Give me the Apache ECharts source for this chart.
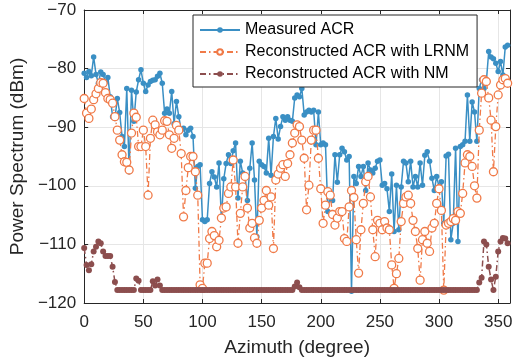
<!DOCTYPE html>
<html>
<head>
<meta charset="utf-8">
<script src="https://cdn.jsdelivr.net/npm/echarts@6/dist/echarts.min.js"></script>
<style>
html,body{margin:0;padding:0;background:#fff;}
#chart{width:517px;height:362px;}
</style>
</head>
<body>
<div id="chart"></div>
<script>
const azimuth = [0,2,4,6,8,10,12,14,16,18,20,22,24,26,28,30,32,34,36,38,40,42,44,46,48,50,52,54,56,58,60,62,64,66,68,70,72,74,76,78,80,82,84,86,88,90,92,94,96,98,100,102,104,106,108,110,112,114,116,118,120,122,124,126,128,130,132,134,136,138,140,142,144,146,148,150,152,154,156,158,160,162,164,166,168,170,172,174,176,178,180,182,184,186,188,190,192,194,196,198,200,202,204,206,208,210,212,214,216,218,220,222,224,226,228,230,232,234,236,238,240,242,244,246,248,250,252,254,256,258,260,262,264,266,268,270,272,274,276,278,280,282,284,286,288,290,292,294,296,298,300,302,304,306,308,310,312,314,316,318,320,322,324,326,328,330,332,334,336,338,340,342,344,346,348,350,352,354,356,358];

const measuredACR = [
-80.8,-81.5,-80.5,-81.2,-78.0,-81.0,-82.5,-80.6,-81.0,-82.3,-81.5,-84.8,-88.2,-88.5,-85.1,-87.5,-91.6,-93.3,-83.4,-97.6,-83.7,-89.0,-84.0,-81.9,-80.2,-82.5,-83.9,-82.8,-82.2,
-82.0,-81.9,-81.3,-80.8,-82.5,-87.6,-86.9,-87.6,-83.9,-89.4,-85.6,-88.2,-90.5,-90.2,-91.3,-90.5,-90.2,-91.6,-100.4,-96.7,-96.4,-105.8,-106.1,-105.8,-99.6,-97.6,-98.5,-100.2,-96.1,-105.8,-98.8,
-96.2,-94.7,-96.2,-94.0,-92.7,-102.1,-95.8,-97.8,-98.3,-102.5,-97.0,-92.7,-99.0,-108.7,-95.8,-96.4,-96.7,-97.8,-91.9,-98.2,-91.6,-88.5,-92.0,-89.9,-88.2,-88.8,-88.2,-88.8,-89.0,-85.0,-84.5,
-84.8,-83.4,-87.9,-87.4,-87.1,-87.4,-87.1,-93.0,-87.4,-93.0,-92.7,-93.0,-104.4,-101.3,-102.5,-94.7,-99.4,-94.7,-93.6,-94.2,-95.6,-95.0,-118.0,-98.4,-99.6,-96.7,-98.4,-96.7,-100.8,-96.1,
-97.3,-97.8,-97.0,-95.8,-95.6,-99.9,-99.6,-100.5,-104.4,-98.0,-107.8,-99.9,-107.5,-100.2,-95.8,-96.1,-99.3,-95.8,-100.2,-98.4,-100.2,-96.1,-99.9,-94.8,-94.2,-95.8,-98.7,-100.8,-98.4,-100.2,
-99.3,-106.4,-94.9,-94.6,-109.2,-106.4,-93.6,-109.5,-93.3,-93.0,-92.4,-84.5,-92.4,-85.7,-87.4,-92.4,-83.4,-81.9,-83.4,-82.2,-77.1,-78.0,-78.3,-79.1,-80.5,-78.8,-81.1,-76.3,-76.0
];

const reconLRNM = [
-85.1,-87.6,-88.5,-86.9,-85.3,-84.3,-83.4,-82.4,-82.5,-84.1,-85.1,-85.3,-85.9,-88.2,-90.5,-92.2,-94.7,-95.9,-96.0,-97.3,-91.0,-87.6,-88.3,-93.3,-93.3,-90.5,-93.3,-101.6,-91.9,
-88.8,-89.6,-90.8,-91.3,-90.5,-88.9,-89.0,-91.3,-93.6,-91.9,-89.7,-90.5,-94.5,-105.3,-100.8,-96.9,-95.0,-95.0,-97.6,-101.6,-116.9,-117.5,-113.2,-113.2,-109.0,-107.8,-108.5,-110.4,-109.3,-105.5,-103.8,
-103.6,-101.3,-100.2,-95.6,-100.2,-109.8,-104.7,-100.2,-98.4,-103.8,-107.2,-106.4,-108.9,-109.8,-105.9,-103.8,-102.5,-100.8,-103.3,-101.9,-110.7,-99.0,-98.0,-97.0,-96.4,-98.4,-96.2,-94.7,-92.7,-91.0,-89.6,
-89.9,-92.2,-95.3,-104.1,-99.9,-92.2,-90.5,-90.5,-95.3,-100.5,-106.4,-103.3,-101.0,-101.6,-104.9,-106.7,-105.5,-104.4,-104.4,-109.0,-109.5,-103.6,-100.8,-102.0,-109.2,-114.9,-107.5,-103.0,-99.3,-98.4,
-101.9,-107.5,-112.1,-105.9,-106.4,-107.5,-106.1,-107.2,-107.5,-113.5,-117.5,-115.0,-112.4,-106.1,-103.0,-101.9,-101.6,-103.0,-105.9,-107.8,-110.7,-116.1,-109.2,-107.8,-109.8,-111.2,-107.2,-106.4,-103.0,-100.5,
-104.2,-117.8,-106.7,-106.4,-106.1,-105.6,-105.9,-104.4,-104.7,-101.3,-96.1,-94.7,-95.0,-96.7,-100.0,-102.1,-90.5,-84.2,-81.9,-82.2,-85.0,-88.8,-97.6,-89.9,-84.5,-82.8,-81.9,-81.7,-82.5
];

const reconNM = [
-110.6,-113.5,-114.4,-113.4,-111.2,-110.4,-109.5,-109.8,-111.2,-112.0,-112.0,-112.0,-113.8,-116.4,-117.8,
-117.8,-117.8,-117.8,-117.8,-117.8,-117.8,-117.8,
-115.8,-116.2,
-117.8,-117.8,-117.8,-117.8,-117.8,
-116.3,-117.0,-116.0,-117.0,
-117.8,-117.8,-117.8,-117.8,-117.8,-117.8,-117.8,-117.8,-117.8,-117.8,-117.8,-117.8,-117.8,-117.8,-117.8,-117.8,-117.8,-117.8,-117.8,-117.8,-117.8,-117.8,-117.8,-117.8,-117.8,-117.8,-117.8,-117.8,-117.8,-117.8,-117.8,-117.8,-117.8,-117.8,-117.8,-117.8,-117.8,-117.8,-117.8,-117.8,-117.8,-117.8,-117.8,-117.8,-117.8,-117.8,-117.8,-117.8,-117.8,-117.8,-117.8,-117.8,-117.8,-117.8,-117.8,-117.8,
-117.2,-116.5,-117.3,
-117.8,-117.8,-117.8,-117.8,-117.8,-117.8,-117.8,-117.8,-117.8,-117.8,-117.8,-117.8,-117.8,-117.8,-117.8,-117.8,-117.8,-117.8,-117.8,-117.8,-117.8,-117.8,-117.8,-117.8,-117.8,-117.8,-117.8,-117.8,-117.8,-117.8,-117.8,-117.8,-117.8,-117.8,-117.8,-117.8,-117.8,-117.8,-117.8,-117.8,-117.8,-117.8,-117.8,-117.8,-117.8,-117.8,-117.8,-117.8,-117.8,-117.8,-117.8,-117.8,-117.8,-117.8,-117.8,-117.8,-117.8,-117.8,-117.8,-117.8,-117.8,-117.8,-117.8,-117.8,-117.8,-117.8,-117.8,-117.8,-117.8,-117.8,-117.8,-117.8,-117.8,-117.8,-117.8,
-116.5,-115.7,-109.5,-110.0,-113.8,-116.0,-117.8,-115.5,-111.2,-109.5,-108.9,-109.0,-109.8
];

const seriesNames = ['Measured ACR', 'Reconstructed ACR with LRNM', 'Reconstructed ACR with NM'];
const xTicks = [0, 50, 100, 150, 200, 250, 300, 350];
const yTicks = [-120, -110, -100, -90, -80, -70];

function pairs(vals) { return azimuth.map((a, i) => [a, vals[i]]); }

const FONT = '"Liberation Sans", Arial, Helvetica, sans-serif';
const chart = echarts.init(document.getElementById('chart'), null, {renderer: 'canvas'});
const dashDot = [6, 3, 1.5, 3];

chart.setOption({
  animation: false,
  backgroundColor: '#ffffff',
  textStyle: {fontFamily: FONT},
  grid: {left: 82, right: 7, top: 10, bottom: 59, containLabel: false, show: false},
  legend: {
    orient: 'vertical',
    left: 193, top: 15,
    itemWidth: 40, itemHeight: 7, itemGap: 4,
    padding: [6, 8, 4, 6],
    backgroundColor: '#ffffff',
    borderColor: '#262626', borderWidth: 1, borderRadius: 0,
    textStyle: {fontFamily: FONT, fontSize: 16, color: '#000', lineHeight: 18},
    data: seriesNames
  },
  xAxis: [{
    type: 'value', min: 0, max: 360, interval: 50,
    name: 'Azimuth (degree)', nameLocation: 'middle', nameGap: 35,
    nameTextStyle: {fontFamily: FONT, fontSize: 19, color: '#262626'},
    axisLine: {show: true, onZero: false, lineStyle: {color: '#262626', width: 1}},
    axisTick: {show: true, inside: true, length: 4, lineStyle: {color: '#262626'}},
    axisLabel: {fontFamily: FONT, fontSize: 17, color: '#262626', margin: 11, showMaxLabel: false,
      formatter: v => xTicks.indexOf(v) >= 0 ? String(v) : ''},
    splitLine: {show: true, lineStyle: {color: '#e6e6e6', width: 1}}
  }, {
    type: 'value', min: 0, max: 360, interval: 50, position: 'top',
    axisLine: {show: true, onZero: false, lineStyle: {color: '#262626', width: 1}},
    axisTick: {show: true, inside: true, length: 4, lineStyle: {color: '#262626'}},
    axisLabel: {show: false}, splitLine: {show: false}
  }],
  yAxis: [{
    type: 'value', min: -120, max: -70, interval: 10,
    name: 'Power Spectrum (dBm)', nameLocation: 'middle', nameGap: 47, nameRotate: 90,
    nameTextStyle: {fontFamily: FONT, fontSize: 19, color: '#262626'},
    axisLine: {show: true, onZero: false, lineStyle: {color: '#262626', width: 1}},
    axisTick: {show: true, inside: true, length: 4, lineStyle: {color: '#262626'}},
    axisLabel: {fontFamily: FONT, fontSize: 17, color: '#262626', margin: 8,
      formatter: v => yTicks.indexOf(v) >= 0 ? String(v).replace('-', '\u2212') : ''},
    splitLine: {show: true, lineStyle: {color: '#e6e6e6', width: 1}}
  }, {
    type: 'value', min: -120, max: -70, interval: 10, position: 'right',
    axisLine: {show: true, onZero: false, lineStyle: {color: '#262626', width: 1}},
    axisTick: {show: true, inside: true, length: 4, lineStyle: {color: '#262626'}},
    axisLabel: {show: false}, splitLine: {show: false}
  }],
  series: [{
    name: seriesNames[0], type: 'line', data: pairs(measuredACR),
    symbol: 'circle', symbolSize: 5.5, showSymbol: true,
    itemStyle: {color: '#3a8fc4'},
    lineStyle: {color: '#3a8fc4', width: 1.5, type: 'solid'},
    z: 2
  }, {
    name: seriesNames[1], type: 'line', data: pairs(reconLRNM),
    symbol: 'circle', symbolSize: 8, showSymbol: true,
    itemStyle: {color: '#ffffff', borderColor: '#f07a48', borderWidth: 1.3},
    lineStyle: {color: '#f07a48', width: 1.3, type: dashDot},
    z: 3
  }, {
    name: seriesNames[2], type: 'line', data: pairs(reconNM),
    symbol: 'circle', symbolSize: 6, showSymbol: true,
    itemStyle: {color: '#8c4e4e'},
    lineStyle: {color: '#8c4e4e', width: 1.5, type: dashDot},
    z: 4
  }]
});
</script>
</body>
</html>
